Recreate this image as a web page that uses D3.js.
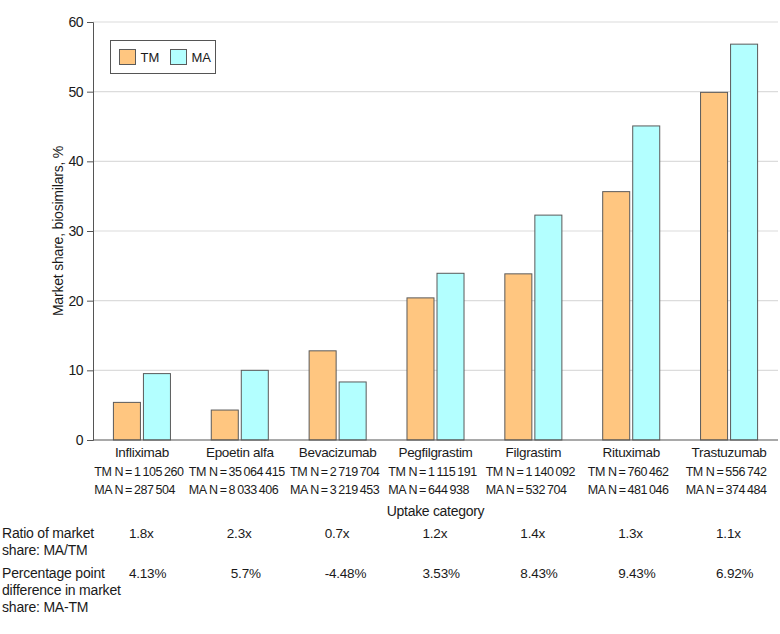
<!DOCTYPE html>
<html>
<head>
<meta charset="utf-8">
<script src="https://cdn.jsdelivr.net/npm/d3@7"></script>
<style>
  body { margin: 0; background: #fff; }
  svg text { font-family: "Liberation Sans", Arial, sans-serif; fill: #1a1a1a; }
</style>
</head>
<body>
<svg id="chart" width="780" height="634"></svg>
<script>
const categories = ["Infliximab", "Epoetin alfa", "Bevacizumab", "Pegfilgrastim", "Filgrastim", "Rituximab", "Trastuzumab"];
const seriesNames = ["TM", "MA"];
const tmValues = [5.4, 4.3, 12.8, 20.4, 23.85, 35.65, 49.9];
const maValues = [9.53, 10.0, 8.33, 23.93, 32.28, 45.08, 56.82];
const tmN = ["1\u2009105\u2009260", "35\u2009064\u2009415", "2\u2009719\u2009704", "1\u2009115\u2009191", "1\u2009140\u2009092", "760\u2009462", "556\u2009742"];
const maN = ["287\u2009504", "8\u2009033\u2009406", "3\u2009219\u2009453", "644\u2009938", "532\u2009704", "481\u2009046", "374\u2009484"];
const ratios = ["1.8x", "2.3x", "0.7x", "1.2x", "1.4x", "1.3x", "1.1x"];
const diffs = ["4.13%", "5.7%", "-4.48%", "3.53%", "8.43%", "9.43%", "6.92%"];
const yTicks = [0, 10, 20, 30, 40, 50, 60];
const colors = { TM: "#FFC680", MA: "#B3FFFF" };

const svg = d3.select("#chart");
const m = { left: 93, right: 778, top: 22, bottom: 440 };

const x = d3.scaleBand().domain(categories).range([m.left, m.right]).paddingInner(0).paddingOuter(0);
const xs = d3.scaleBand().domain(seriesNames).range([0, x.bandwidth()]).paddingInner(0.1).paddingOuter(0.68);
const y = d3.scaleLinear().domain([0, 60]).range([m.bottom, m.top]);

// grid
svg.append("g").selectAll("line").data(yTicks.filter(d => d > 0)).join("line")
  .attr("x1", m.left).attr("x2", m.right)
  .attr("y1", d => y(d)).attr("y2", d => y(d))
  .attr("stroke", "#dcdcdc").attr("stroke-width", 1.2);

// y axis
const yAxis = d3.axisLeft(y).tickValues(yTicks).tickSize(6).tickPadding(4);
const gy = svg.append("g").attr("transform", `translate(${m.left},0)`).call(yAxis);
gy.select(".domain").attr("stroke", "#555");
gy.selectAll(".tick line").attr("stroke", "#555");
gy.selectAll(".tick text").style("font-size", "14px").attr("fill", "#1a1a1a")
  .style("letter-spacing", "-0.5px")
  .style("font-family", '"Liberation Sans", Arial, sans-serif');

// bars
const data = categories.map((c, i) => ({ c, vals: [{ s: "TM", v: tmValues[i] }, { s: "MA", v: maValues[i] }] }));
const groups = svg.append("g").selectAll("g").data(data).join("g")
  .attr("transform", d => `translate(${x(d.c)},0)`);
groups.selectAll("rect").data(d => d.vals).join("rect")
  .attr("x", d => xs(d.s)).attr("width", xs.bandwidth())
  .attr("y", d => y(d.v)).attr("height", d => y(0) - y(d.v))
  .attr("fill", d => colors[d.s]).attr("stroke", "#5a5a5a").attr("stroke-width", 1);

// x baseline
svg.append("line").attr("x1", m.left).attr("x2", m.right).attr("y1", y(0)).attr("y2", y(0))
  .attr("stroke", "#555").attr("stroke-width", 1.2);

// category labels
const cx = c => x(c) + x.bandwidth() / 2;
svg.append("g").selectAll("text").data(categories).join("text")
  .attr("x", d => cx(d)).attr("y", 457).attr("text-anchor", "middle")
  .style("font-size", "13.5px").style("letter-spacing", "-0.3px").text(d => d);

// N labels
categories.forEach((c, i) => {
  const g = svg.append("g").style("font-size", "12.5px").style("letter-spacing", "-0.45px");
  const t1 = g.append("text").attr("y", 476).text("TM N\u2009=\u2009" + tmN[i]);
  const t2 = g.append("text").attr("y", 494).text("MA N\u2009=\u2009" + maN[i]);
  const w = Math.max(t1.node().getComputedTextLength(), t2.node().getComputedTextLength());
  const sx = cx(c) - w / 2 - 3;
  t1.attr("x", sx); t2.attr("x", sx);
});

// x axis title
svg.append("text").attr("x", (m.left + m.right) / 2).attr("y", 516).attr("text-anchor", "middle")
  .style("font-size", "14px").style("letter-spacing", "-0.3px").text("Uptake category");

// y axis title
svg.append("text").attr("transform", `translate(63,${(m.top + m.bottom) / 2}) rotate(-90)`)
  .attr("text-anchor", "middle").style("font-size", "14px").style("letter-spacing", "-0.2px")
  .text("Market share, biosimilars, %");

// summary rows
const rowLabel = (lines, y0) => {
  const t = svg.append("text").attr("x", 2).attr("y", y0).style("font-size", "14px").style("letter-spacing", "-0.2px");
  lines.forEach((l, k) => t.append("tspan").attr("x", 2).attr("dy", k === 0 ? 0 : 17).text(l));
};
rowLabel(["Ratio of market", "share: MA/TM"], 538);
rowLabel(["Percentage point", "difference in market", "share: MA-TM"], 578);

svg.append("g").selectAll("text").data(categories).join("text")
  .attr("x", d => cx(d) - 13).attr("y", 538).style("font-size", "13.5px").style("letter-spacing", "-0.2px")
  .text((d, i) => ratios[i]);
svg.append("g").selectAll("text").data(categories).join("text")
  .attr("x", (d, i) => cx(d) - 13 + (i === 1 ? 4 : 0)).attr("y", 578).style("font-size", "13.5px").style("letter-spacing", "-0.2px")
  .text((d, i) => diffs[i]);

// legend
const lg = svg.append("g");
lg.append("rect").attr("x", 110.5).attr("y", 40.5).attr("width", 105).attr("height", 33)
  .attr("fill", "#fff").attr("stroke", "#555").attr("stroke-width", 1);
seriesNames.forEach((s, k) => {
  const ox = 119.5 + k * 51;
  lg.append("rect").attr("x", ox).attr("y", 49.5).attr("width", 16).attr("height", 15)
    .attr("fill", colors[s]).attr("stroke", "#5a5a5a");
  lg.append("text").attr("x", ox + 21).attr("y", 62).style("font-size", "13px").text(s);
});
</script>
</body>
</html>
